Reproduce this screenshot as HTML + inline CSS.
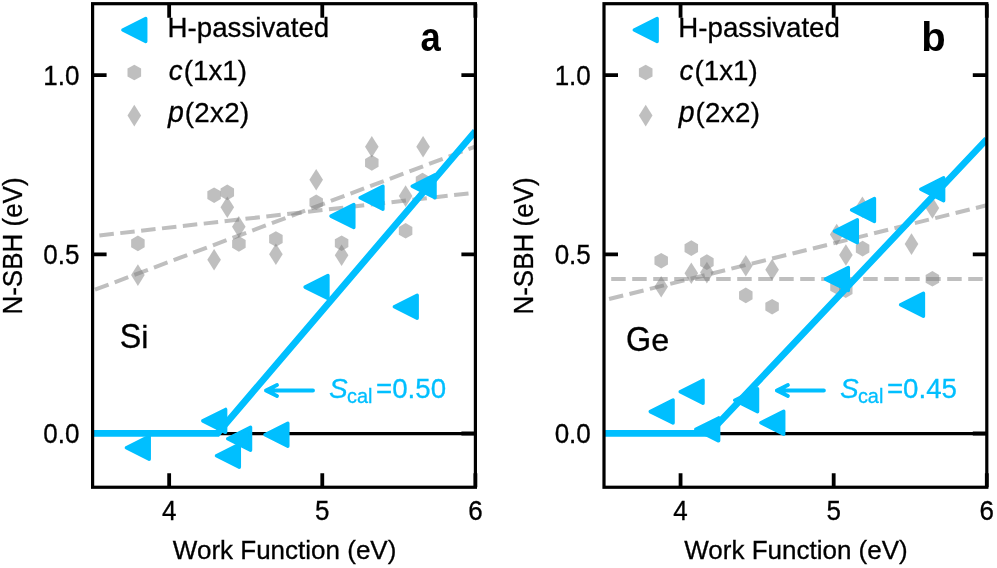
<!DOCTYPE html>
<html><head><meta charset="utf-8"><title>N-SBH vs Work Function</title>
<style>html,body{margin:0;padding:0;background:#fff;overflow:hidden}svg{display:block;will-change:transform}text{font-family:"Liberation Sans",sans-serif;fill:#000;stroke:#000;stroke-width:0.3px}</style></head><body>
<svg width="997" height="568" viewBox="0 0 997 568">
<rect width="997" height="568" fill="#fff"/>
<!-- panel a -->
<clipPath id="clipa"><rect x="92.60" y="3.7" width="382.80" height="483.55"/></clipPath>
<g clip-path="url(#clipa)">
<line x1="92.60" y1="433.7" x2="475.40" y2="433.7" stroke="#000" stroke-width="3.3"/>
<line x1="99.40" y1="235.50" x2="475.10" y2="192.70" stroke="#808080" stroke-opacity="0.5" stroke-width="4.0" stroke-dasharray="14.5 6.5" stroke-dashoffset="0"/>
<line x1="95.00" y1="289.70" x2="475.10" y2="146.70" stroke="#808080" stroke-opacity="0.5" stroke-width="4.0" stroke-dasharray="14.5 6.5" stroke-dashoffset="0"/>
<polygon points="137.90,235.60 131.15,239.50 131.15,247.30 137.90,251.20 144.65,247.30 144.65,239.50" fill="#808080" fill-opacity="0.5"/>
<polygon points="214.10,187.40 207.35,191.30 207.35,199.10 214.10,203.00 220.85,199.10 220.85,191.30" fill="#808080" fill-opacity="0.5"/>
<polygon points="227.30,184.60 220.55,188.50 220.55,196.30 227.30,200.20 234.05,196.30 234.05,188.50" fill="#808080" fill-opacity="0.5"/>
<polygon points="238.90,236.10 232.15,240.00 232.15,247.80 238.90,251.70 245.65,247.80 245.65,240.00" fill="#808080" fill-opacity="0.5"/>
<polygon points="275.90,231.20 269.15,235.10 269.15,242.90 275.90,246.80 282.65,242.90 282.65,235.10" fill="#808080" fill-opacity="0.5"/>
<polygon points="316.20,194.50 309.45,198.40 309.45,206.20 316.20,210.10 322.95,206.20 322.95,198.40" fill="#808080" fill-opacity="0.5"/>
<polygon points="371.80,155.10 365.05,159.00 365.05,166.80 371.80,170.70 378.55,166.80 378.55,159.00" fill="#808080" fill-opacity="0.5"/>
<polygon points="422.50,172.80 415.75,176.70 415.75,184.50 422.50,188.40 429.25,184.50 429.25,176.70" fill="#808080" fill-opacity="0.5"/>
<polygon points="405.60,223.00 398.85,226.90 398.85,234.70 405.60,238.60 412.35,234.70 412.35,226.90" fill="#808080" fill-opacity="0.5"/>
<polygon points="341.60,235.40 334.85,239.30 334.85,247.10 341.60,251.00 348.35,247.10 348.35,239.30" fill="#808080" fill-opacity="0.5"/>
<polygon points="137.90,264.30 144.70,275.10 137.90,285.90 131.10,275.10" fill="#808080" fill-opacity="0.5"/>
<polygon points="227.30,196.50 234.10,207.30 227.30,218.10 220.50,207.30" fill="#808080" fill-opacity="0.5"/>
<polygon points="238.80,215.90 245.60,226.70 238.80,237.50 232.00,226.70" fill="#808080" fill-opacity="0.5"/>
<polygon points="214.10,249.00 220.90,259.80 214.10,270.60 207.30,259.80" fill="#808080" fill-opacity="0.5"/>
<polygon points="275.90,243.40 282.70,254.20 275.90,265.00 269.10,254.20" fill="#808080" fill-opacity="0.5"/>
<polygon points="316.20,169.00 323.00,179.80 316.20,190.60 309.40,179.80" fill="#808080" fill-opacity="0.5"/>
<polygon points="371.80,136.00 378.60,146.80 371.80,157.60 365.00,146.80" fill="#808080" fill-opacity="0.5"/>
<polygon points="423.10,136.00 429.90,146.80 423.10,157.60 416.30,146.80" fill="#808080" fill-opacity="0.5"/>
<polygon points="405.60,185.30 412.40,196.10 405.60,206.90 398.80,196.10" fill="#808080" fill-opacity="0.5"/>
<polygon points="341.60,244.50 348.40,255.30 341.60,266.10 334.80,255.30" fill="#808080" fill-opacity="0.5"/>
<polyline points="87.60,433.40 217.50,433.40 475.40,131.14" fill="none" stroke="#00bfff" stroke-width="6.7" stroke-linejoin="miter"/>
<polygon points="126.40,447.80 149.20,436.35 149.20,459.25" fill="#00bfff" stroke="#00bfff" stroke-width="3.5" stroke-linejoin="round"/>
<polygon points="202.80,420.90 225.60,409.45 225.60,432.35" fill="#00bfff" stroke="#00bfff" stroke-width="3.5" stroke-linejoin="round"/>
<polygon points="227.70,438.80 250.50,427.35 250.50,450.25" fill="#00bfff" stroke="#00bfff" stroke-width="3.5" stroke-linejoin="round"/>
<polygon points="265.00,434.80 287.80,423.35 287.80,446.25" fill="#00bfff" stroke="#00bfff" stroke-width="3.5" stroke-linejoin="round"/>
<polygon points="216.50,455.80 239.30,444.35 239.30,467.25" fill="#00bfff" stroke="#00bfff" stroke-width="3.5" stroke-linejoin="round"/>
<polygon points="305.10,287.10 327.90,275.65 327.90,298.55" fill="#00bfff" stroke="#00bfff" stroke-width="3.5" stroke-linejoin="round"/>
<polygon points="331.00,216.10 353.80,204.65 353.80,227.55" fill="#00bfff" stroke="#00bfff" stroke-width="3.5" stroke-linejoin="round"/>
<polygon points="360.10,197.80 382.90,186.35 382.90,209.25" fill="#00bfff" stroke="#00bfff" stroke-width="3.5" stroke-linejoin="round"/>
<polygon points="412.20,186.30 435.00,174.85 435.00,197.75" fill="#00bfff" stroke="#00bfff" stroke-width="3.5" stroke-linejoin="round"/>
<polygon points="394.35,306.80 417.15,295.35 417.15,318.25" fill="#00bfff" stroke="#00bfff" stroke-width="3.5" stroke-linejoin="round"/>
</g>
<g>
<path d="M313.00,390.55 L266.00,390.55 M277.00,385.1 L266.00,390.55 L277.00,396.0" fill="none" stroke="#00bfff" stroke-width="3.9" stroke-linecap="round" stroke-linejoin="round"/>
<text x="329.00" y="397.85" font-size="28" font-style="italic" style="fill:#00bfff;stroke:#00bfff">S</text>
<text x="347.00" y="402.5" font-size="19.9" style="fill:#00bfff;stroke:#00bfff">cal</text>
<text x="376.00" y="398.0" font-size="27.7" style="fill:#00bfff;stroke:#00bfff">=0.50</text>
</g>
<rect x="92.60" y="3.7" width="382.80" height="483.55" fill="none" stroke="#000" stroke-width="3.2"/>
<path d="M169.16,3.7 v14.0 M169.16,487.25 v-14.0 M322.28,3.7 v14.0 M322.28,487.25 v-14.0 M475.40,3.7 v14.0 M475.40,487.25 v-14.0 M475.40,433.50 h-14.0 M92.60,254.30 h14.0 M475.40,254.30 h-14.0 M92.60,75.10 h14.0 M475.40,75.10 h-14.0" fill="none" stroke="#000" stroke-width="3.8"/>
<text transform="translate(169.16,519.60) scale(1.0,1.04)" font-size="26" text-anchor="middle">4</text>
<text transform="translate(322.28,519.60) scale(1.0,1.04)" font-size="26" text-anchor="middle">5</text>
<text transform="translate(475.40,519.60) scale(1.0,1.04)" font-size="26" text-anchor="middle">6</text>
<text transform="translate(79.40,443.00) scale(1.0,1.04)" font-size="26" text-anchor="end">0.0</text>
<text transform="translate(79.40,263.80) scale(1.0,1.04)" font-size="26" text-anchor="end">0.5</text>
<text transform="translate(79.40,84.60) scale(1.0,1.04)" font-size="26" text-anchor="end">1.0</text>
<text transform="translate(284.60,559.20)" font-size="26" text-anchor="middle">Work Function (eV)</text>
<text transform="translate(21.80,246.00) rotate(-90) scale(1.0,1.03)" font-size="26" text-anchor="middle">N-SBH (eV)</text>
<polygon points="122.90,30.00 145.70,18.55 145.70,41.45" fill="#00bfff" stroke="#00bfff" stroke-width="3.5" stroke-linejoin="round"/>
<polygon points="134.30,64.65 127.50,68.58 127.50,76.42 134.30,80.35 141.10,76.42 141.10,68.58" fill="#808080" fill-opacity="0.5"/>
<polygon points="134.30,104.70 141.10,115.55 134.30,126.40 127.50,115.55" fill="#808080" fill-opacity="0.5"/>
<text transform="translate(167.60,37.30) scale(1.0,1.02)" font-size="27.7">H-passivated</text>
<text transform="translate(167.60,79.80) scale(1.0,1.03)" font-size="27.7"><tspan font-style="italic" dx="1.2">c</tspan><tspan dx="1.2">(1x1)</tspan></text>
<text transform="translate(167.60,122.20) scale(1.0,1.03)" font-size="27.7"><tspan font-style="italic" font-size="28.5" dx="0.4">p</tspan><tspan dx="0.9" letter-spacing="0.35">(2x2)</tspan></text>
<text transform="translate(430.70,50.85) scale(0.91,1.02)" font-size="40" text-anchor="middle" font-weight="bold" style="stroke-width:0">a</text>
<text transform="translate(119.65,348.40) scale(1.0,1.08)" font-size="32.3">S</text>
<text transform="translate(141.19,348.40) scale(1.0,0.985)" font-size="32.3">i</text>
<!-- panel b -->
<clipPath id="clipb"><rect x="604.00" y="3.7" width="382.80" height="483.55"/></clipPath>
<g clip-path="url(#clipb)">
<line x1="604.00" y1="433.7" x2="986.80" y2="433.7" stroke="#000" stroke-width="3.3"/>
<line x1="611.20" y1="278.90" x2="986.80" y2="278.90" stroke="#808080" stroke-opacity="0.5" stroke-width="4.0" stroke-dasharray="14.5 6.5" stroke-dashoffset="0"/>
<line x1="609.10" y1="299.00" x2="986.80" y2="205.30" stroke="#808080" stroke-opacity="0.5" stroke-width="4.0" stroke-dasharray="14.5 6.5" stroke-dashoffset="0"/>
<polygon points="661.20,252.90 654.45,256.80 654.45,264.60 661.20,268.50 667.95,264.60 667.95,256.80" fill="#808080" fill-opacity="0.5"/>
<polygon points="691.30,240.30 684.55,244.20 684.55,252.00 691.30,255.90 698.05,252.00 698.05,244.20" fill="#808080" fill-opacity="0.5"/>
<polygon points="706.90,254.30 700.15,258.20 700.15,266.00 706.90,269.90 713.65,266.00 713.65,258.20" fill="#808080" fill-opacity="0.5"/>
<polygon points="745.80,287.60 739.05,291.50 739.05,299.30 745.80,303.20 752.55,299.30 752.55,291.50" fill="#808080" fill-opacity="0.5"/>
<polygon points="772.10,298.90 765.35,302.80 765.35,310.60 772.10,314.50 778.85,310.60 778.85,302.80" fill="#808080" fill-opacity="0.5"/>
<polygon points="837.00,278.95 830.25,282.85 830.25,290.65 837.00,294.55 843.75,290.65 843.75,282.85" fill="#808080" fill-opacity="0.5"/>
<polygon points="845.75,282.40 839.00,286.30 839.00,294.10 845.75,298.00 852.50,294.10 852.50,286.30" fill="#808080" fill-opacity="0.5"/>
<polygon points="862.60,240.80 855.85,244.70 855.85,252.50 862.60,256.40 869.35,252.50 869.35,244.70" fill="#808080" fill-opacity="0.5"/>
<polygon points="932.40,271.00 925.65,274.90 925.65,282.70 932.40,286.60 939.15,282.70 939.15,274.90" fill="#808080" fill-opacity="0.5"/>
<polygon points="661.20,276.00 668.00,286.80 661.20,297.60 654.40,286.80" fill="#808080" fill-opacity="0.5"/>
<polygon points="691.30,262.40 698.10,273.20 691.30,284.00 684.50,273.20" fill="#808080" fill-opacity="0.5"/>
<polygon points="706.90,261.80 713.70,272.60 706.90,283.40 700.10,272.60" fill="#808080" fill-opacity="0.5"/>
<polygon points="745.80,254.90 752.60,265.70 745.80,276.50 739.00,265.70" fill="#808080" fill-opacity="0.5"/>
<polygon points="772.10,258.90 778.90,269.70 772.10,280.50 765.30,269.70" fill="#808080" fill-opacity="0.5"/>
<polygon points="862.40,196.40 869.20,207.20 862.40,218.00 855.60,207.20" fill="#808080" fill-opacity="0.5"/>
<polygon points="836.70,223.80 843.50,234.60 836.70,245.40 829.90,234.60" fill="#808080" fill-opacity="0.5"/>
<polygon points="845.90,244.20 852.70,255.00 845.90,265.80 839.10,255.00" fill="#808080" fill-opacity="0.5"/>
<polygon points="911.50,233.30 918.30,244.10 911.50,254.90 904.70,244.10" fill="#808080" fill-opacity="0.5"/>
<polygon points="932.40,197.10 939.20,207.90 932.40,218.70 925.60,207.90" fill="#808080" fill-opacity="0.5"/>
<polyline points="599.00,433.40 708.90,433.40 986.80,139.19" fill="none" stroke="#00bfff" stroke-width="6.7" stroke-linejoin="miter"/>
<polygon points="650.25,411.60 673.05,400.15 673.05,423.05" fill="#00bfff" stroke="#00bfff" stroke-width="3.5" stroke-linejoin="round"/>
<polygon points="680.20,391.80 703.00,380.35 703.00,403.25" fill="#00bfff" stroke="#00bfff" stroke-width="3.5" stroke-linejoin="round"/>
<polygon points="695.80,429.40 718.60,417.95 718.60,440.85" fill="#00bfff" stroke="#00bfff" stroke-width="3.5" stroke-linejoin="round"/>
<polygon points="734.70,400.30 757.50,388.85 757.50,411.75" fill="#00bfff" stroke="#00bfff" stroke-width="3.5" stroke-linejoin="round"/>
<polygon points="760.90,422.70 783.70,411.25 783.70,434.15" fill="#00bfff" stroke="#00bfff" stroke-width="3.5" stroke-linejoin="round"/>
<polygon points="825.50,279.10 848.30,267.65 848.30,290.55" fill="#00bfff" stroke="#00bfff" stroke-width="3.5" stroke-linejoin="round"/>
<polygon points="834.50,231.20 857.30,219.75 857.30,242.65" fill="#00bfff" stroke="#00bfff" stroke-width="3.5" stroke-linejoin="round"/>
<polygon points="851.60,210.00 874.40,198.55 874.40,221.45" fill="#00bfff" stroke="#00bfff" stroke-width="3.5" stroke-linejoin="round"/>
<polygon points="920.80,189.20 943.60,177.75 943.60,200.65" fill="#00bfff" stroke="#00bfff" stroke-width="3.5" stroke-linejoin="round"/>
<polygon points="900.60,304.70 923.40,293.25 923.40,316.15" fill="#00bfff" stroke="#00bfff" stroke-width="3.5" stroke-linejoin="round"/>
</g>
<g>
<path d="M823.90,390.55 L776.90,390.55 M787.90,385.1 L776.90,390.55 L787.90,396.0" fill="none" stroke="#00bfff" stroke-width="3.9" stroke-linecap="round" stroke-linejoin="round"/>
<text x="839.90" y="397.85" font-size="28" font-style="italic" style="fill:#00bfff;stroke:#00bfff">S</text>
<text x="857.90" y="402.5" font-size="19.9" style="fill:#00bfff;stroke:#00bfff">cal</text>
<text x="886.90" y="398.0" font-size="27.7" style="fill:#00bfff;stroke:#00bfff">=0.45</text>
</g>
<rect x="604.00" y="3.7" width="382.80" height="483.55" fill="none" stroke="#000" stroke-width="3.2"/>
<path d="M680.56,3.7 v14.0 M680.56,487.25 v-14.0 M833.68,3.7 v14.0 M833.68,487.25 v-14.0 M986.80,3.7 v14.0 M986.80,487.25 v-14.0 M986.80,433.50 h-14.0 M604.00,254.30 h14.0 M986.80,254.30 h-14.0 M604.00,75.10 h14.0 M986.80,75.10 h-14.0" fill="none" stroke="#000" stroke-width="3.8"/>
<text transform="translate(680.56,519.60) scale(1.0,1.04)" font-size="26" text-anchor="middle">4</text>
<text transform="translate(833.68,519.60) scale(1.0,1.04)" font-size="26" text-anchor="middle">5</text>
<text transform="translate(986.80,519.60) scale(1.0,1.04)" font-size="26" text-anchor="middle">6</text>
<text transform="translate(590.80,443.00) scale(1.0,1.04)" font-size="26" text-anchor="end">0.0</text>
<text transform="translate(590.80,263.80) scale(1.0,1.04)" font-size="26" text-anchor="end">0.5</text>
<text transform="translate(590.80,84.60) scale(1.0,1.04)" font-size="26" text-anchor="end">1.0</text>
<text transform="translate(796.00,559.20)" font-size="26" text-anchor="middle">Work Function (eV)</text>
<text transform="translate(533.20,246.00) rotate(-90) scale(1.0,1.03)" font-size="26" text-anchor="middle">N-SBH (eV)</text>
<polygon points="634.30,30.00 657.10,18.55 657.10,41.45" fill="#00bfff" stroke="#00bfff" stroke-width="3.5" stroke-linejoin="round"/>
<polygon points="645.70,64.65 638.90,68.58 638.90,76.42 645.70,80.35 652.50,76.42 652.50,68.58" fill="#808080" fill-opacity="0.5"/>
<polygon points="645.70,104.70 652.50,115.55 645.70,126.40 638.90,115.55" fill="#808080" fill-opacity="0.5"/>
<text transform="translate(678.30,37.30) scale(1.0,1.02)" font-size="27.7">H-passivated</text>
<text transform="translate(678.30,79.80) scale(1.0,1.03)" font-size="27.7"><tspan font-style="italic" dx="1.2">c</tspan><tspan dx="1.2">(1x1)</tspan></text>
<text transform="translate(678.30,122.20) scale(1.0,1.03)" font-size="27.7"><tspan font-style="italic" font-size="28.5" dx="0.4">p</tspan><tspan dx="0.9" letter-spacing="0.35">(2x2)</tspan></text>
<text transform="translate(933.40,50.85) scale(1.0,1.023)" font-size="40" text-anchor="middle" font-weight="bold" style="stroke-width:0">b</text>
<text transform="translate(626.10,351.30) scale(1.0,1.08)" font-size="32.3">G</text>
<text transform="translate(651.22,351.30) scale(1.0,0.985)" font-size="32.3">e</text>
</svg></body></html>
